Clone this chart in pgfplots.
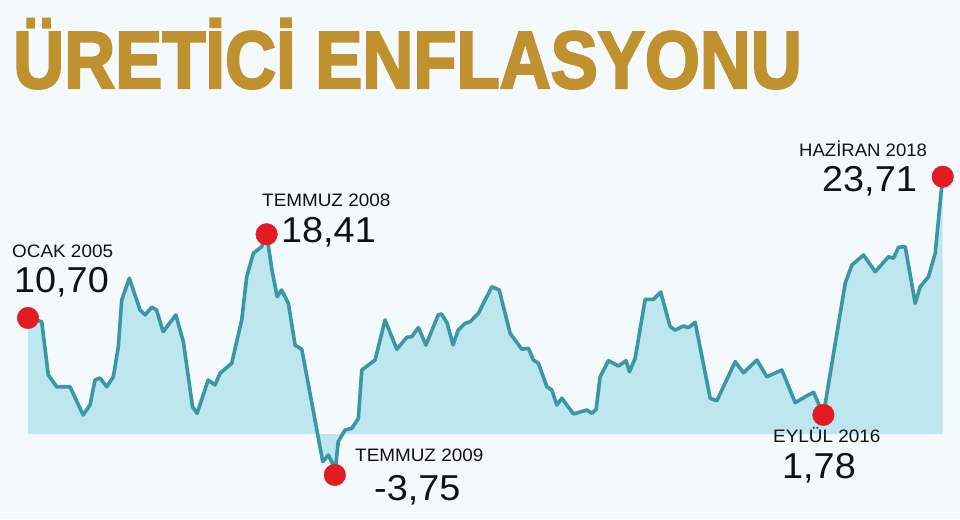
\documentclass[border=0pt]{standalone}
\usepackage{pgfplots}
\pgfplotsset{compat=1.18}
\usepackage{fontspec}
\usepackage{graphicx}
\setmainfont{Liberation Sans}
\newfontfamily\titlefont{Liberation Sans}[BoldFeatures={FakeBold=3}]
\definecolor{bgc}{HTML}{F3F9FC}
\definecolor{gold}{HTML}{C0922F}
\definecolor{linec}{HTML}{3A98A6}
\definecolor{fillc}{HTML}{BEE6EE}
\definecolor{dotc}{HTML}{E31B23}
\definecolor{txt}{HTML}{111111}
\begin{document}
\begin{tikzpicture}[x=1pt,y=1pt]
\fill[bgc] (0,0) rectangle (960,519);
\begin{axis}[at={(28pt,30.5pt)}, anchor=south west, scale only axis,
  width=914.7pt, height=325.8pt, xmin=0, xmax=161, ymin=-5, ymax=25,
  hide axis, clip=false]
\addplot[draw=none, fill=fillc] coordinates {
(0,10.70) (2.41,10.36) (3.57,5.45) (5.05,4.37) (7.39,4.37) (9.70,1.77) (10.92,2.69) (11.80,4.99) (12.68,5.17) (13.86,4.37) (15.02,5.29) (15.90,8.06) (16.50,12.36) (17.83,14.36) (19.72,11.44) (20.60,10.98) (21.78,11.69) (22.62,11.44) (23.79,9.44) (26.02,10.98) (27.34,8.52) (28.96,2.53) (29.77,1.92) (31.71,4.99) (32.92,4.53) (33.80,5.61) (35.86,6.53) (37.62,10.52) (38.50,14.50) (39.67,16.66) (41.14,17.27) (42,18.41) (42.94,15.12) (43.86,12.66) (44.63,13.28) (45.83,12.05) (47.01,8.20) (48.19,7.82) (51.88,-2.53) (52.87,-1.92) (53.6,-2.68) (54,-3.75) (54.6,-0.69) (55.81,0.39) (56.99,0.54) (58.15,1.46) (58.75,5.91) (61.09,6.83) (62.85,10.52) (64.91,7.82) (66.67,8.92) (67.55,8.98) (68.72,9.82) (70.04,8.21) (72.20,10.98) (72.80,11.07) (73.79,10.21) (74.82,8.21) (75.72,9.59) (76.94,10.21) (77.82,10.36) (79.28,11.13) (80.16,12.05) (81.64,13.58) (82.94,13.28) (84.86,9.29) (86.92,7.82) (88.08,7.91) (88.96,6.83) (89.84,6.53) (91.32,4.37) (92.20,4.07) (93.08,2.69) (93.96,3.31) (96.00,1.86) (98.36,2.23) (99.24,1.92) (100.0,2.29) (100.70,5.29) (102.17,6.77) (103.93,6.28) (105.28,6.77) (105.86,5.75) (106.87,6.99) (108.63,12.42) (110.09,12.42) (111.36,13.09) (113.03,9.90) (113.91,9.59) (115.37,9.96) (116.25,9.81) (117.43,10.30) (120.07,3.31) (121.25,3.08) (124.47,6.68) (125.93,5.66) (128.29,6.83) (130.05,5.29) (132.69,5.91) (135.04,2.90) (136.80,3.45) (138.26,3.86) (140,1.78) (143.84,13.90) (145.02,15.58) (147.06,16.50) (149.12,14.96) (151.46,16.34) (152.34,16.20) (153.22,17.21) (154.40,17.27) (156.16,12.05) (157.04,13.58) (158.50,14.50) (159.68,16.66) (161,23.71)
} \closedcycle;
\addplot[color=linec, line width=3.6pt, line join=round, line cap=round] coordinates {
(0,10.70) (2.41,10.36) (3.57,5.45) (5.05,4.37) (7.39,4.37) (9.70,1.77) (10.92,2.69) (11.80,4.99) (12.68,5.17) (13.86,4.37) (15.02,5.29) (15.90,8.06) (16.50,12.36) (17.83,14.36) (19.72,11.44) (20.60,10.98) (21.78,11.69) (22.62,11.44) (23.79,9.44) (26.02,10.98) (27.34,8.52) (28.96,2.53) (29.77,1.92) (31.71,4.99) (32.92,4.53) (33.80,5.61) (35.86,6.53) (37.62,10.52) (38.50,14.50) (39.67,16.66) (41.14,17.27) (42,18.41) (42.94,15.12) (43.86,12.66) (44.63,13.28) (45.83,12.05) (47.01,8.20) (48.19,7.82) (51.88,-2.53) (52.87,-1.92) (53.6,-2.68) (54,-3.75) (54.6,-0.69) (55.81,0.39) (56.99,0.54) (58.15,1.46) (58.75,5.91) (61.09,6.83) (62.85,10.52) (64.91,7.82) (66.67,8.92) (67.55,8.98) (68.72,9.82) (70.04,8.21) (72.20,10.98) (72.80,11.07) (73.79,10.21) (74.82,8.21) (75.72,9.59) (76.94,10.21) (77.82,10.36) (79.28,11.13) (80.16,12.05) (81.64,13.58) (82.94,13.28) (84.86,9.29) (86.92,7.82) (88.08,7.91) (88.96,6.83) (89.84,6.53) (91.32,4.37) (92.20,4.07) (93.08,2.69) (93.96,3.31) (96.00,1.86) (98.36,2.23) (99.24,1.92) (100.0,2.29) (100.70,5.29) (102.17,6.77) (103.93,6.28) (105.28,6.77) (105.86,5.75) (106.87,6.99) (108.63,12.42) (110.09,12.42) (111.36,13.09) (113.03,9.90) (113.91,9.59) (115.37,9.96) (116.25,9.81) (117.43,10.30) (120.07,3.31) (121.25,3.08) (124.47,6.68) (125.93,5.66) (128.29,6.83) (130.05,5.29) (132.69,5.91) (135.04,2.90) (136.80,3.45) (138.26,3.86) (140,1.78) (143.84,13.90) (145.02,15.58) (147.06,16.50) (149.12,14.96) (151.46,16.34) (152.34,16.20) (153.22,17.21) (154.40,17.27) (156.16,12.05) (157.04,13.58) (158.50,14.50) (159.68,16.66) (161,23.71)
};
\addplot[only marks, mark=*, mark size=10.8pt, mark options={draw=dotc, fill=dotc}] coordinates {
(0,10.70) (42,18.41) (54,-3.75) (140,1.78) (161,23.71)
};
\end{axis}
% title
\node[anchor=base west, inner sep=0pt, text=gold] at (13,431)
  {\scalebox{0.872}[1]{\titlefont\fontsize{81}{90}\selectfont\bfseries ÜRETİCİ ENFLASYONU}};
% annotations
\node[anchor=base west, inner sep=0pt, text=txt] at (12,261) {\scalebox{1.05}[1]{\fontsize{18}{20}\selectfont OCAK 2005}};
\node[anchor=base west, inner sep=0pt, text=txt] at (14,226) {\scalebox{1.05}[1]{\fontsize{36}{40}\selectfont 10,70}};
\node[anchor=base west, inner sep=0pt, text=txt] at (262,312) {\scalebox{1.05}[1]{\fontsize{18}{20}\selectfont TEMMUZ 2008}};
\node[anchor=base west, inner sep=0pt, text=txt] at (281,276) {\scalebox{1.05}[1]{\fontsize{36}{40}\selectfont 18,41}};
\node[anchor=base west, inner sep=0pt, text=txt] at (355,57) {\scalebox{1.05}[1]{\fontsize{18}{20}\selectfont TEMMUZ 2009}};
\node[anchor=base west, inner sep=0pt, text=txt] at (374,19) {\scalebox{1.05}[1]{\fontsize{36}{40}\selectfont -3,75}};
\node[anchor=base west, inner sep=0pt, text=txt] at (773,76) {\scalebox{1.05}[1]{\fontsize{18}{20}\selectfont EYLÜL 2016}};
\node[anchor=base west, inner sep=0pt, text=txt] at (782,41) {\scalebox{1.05}[1]{\fontsize{36}{40}\selectfont 1,78}};
\node[anchor=base west, inner sep=0pt, text=txt] at (799,362) {\scalebox{1.03}[1]{\fontsize{18}{20}\selectfont HAZİRAN 2018}};
\node[anchor=base west, inner sep=0pt, text=txt] at (822,327) {\scalebox{1.05}[1]{\fontsize{36}{40}\selectfont 23,71}};
\end{tikzpicture}
\end{document}
